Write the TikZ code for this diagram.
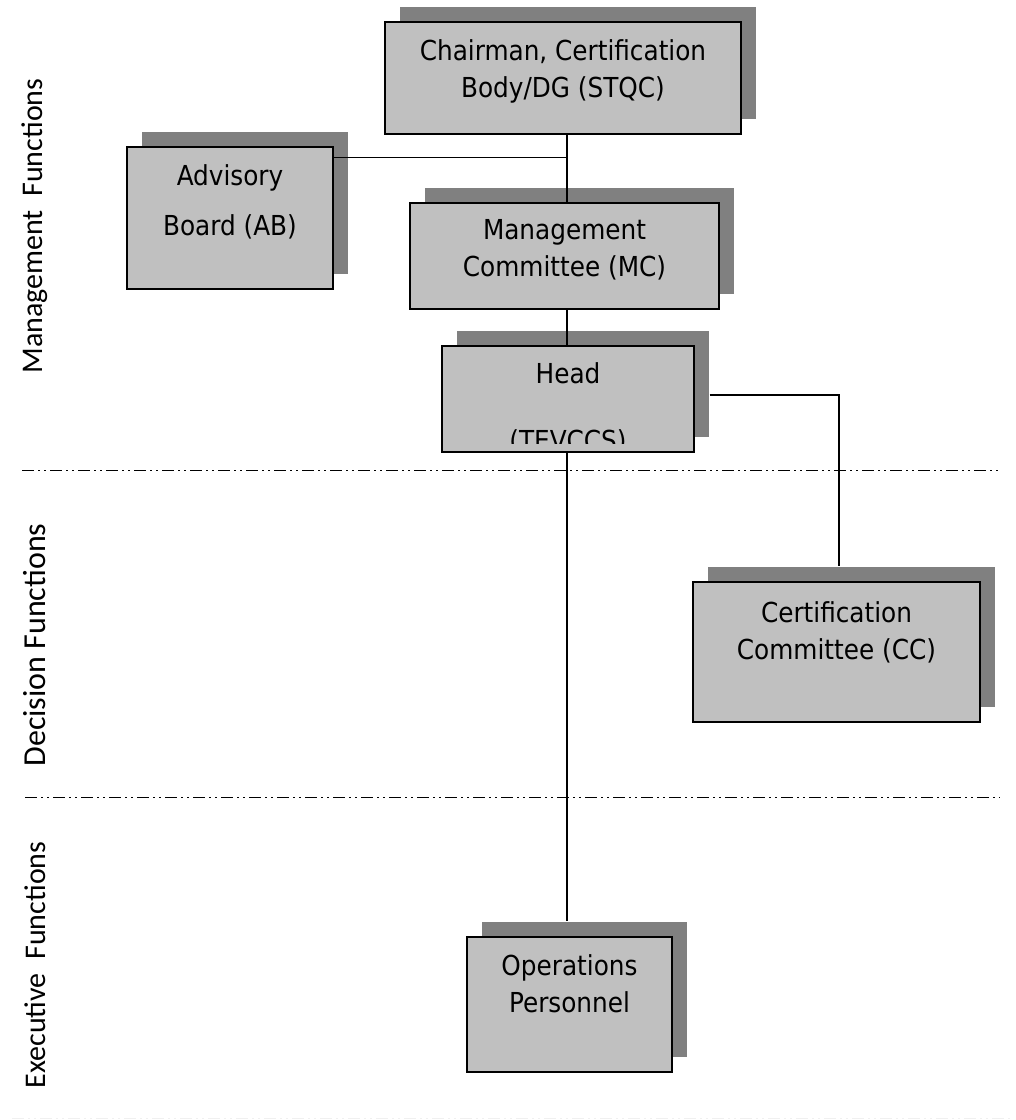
\documentclass[tikz,border=0pt]{standalone}
\usepackage{fontspec}
\setmainfont{DejaVu Sans Condensed}
\newfontfamily\sidefont{Carlito}
\usetikzlibrary{shadows}
\definecolor{boxgray}{HTML}{C0C0C0}
\definecolor{shadegray}{HTML}{808080}

\tikzset{
  orgbox/.style={draw=black, line width=1.4pt, fill=boxgray, inner sep=0pt,
    drop shadow={shadow xshift=15pt, shadow yshift=15pt, fill=shadegray, opacity=1}},
  boxtext/.style={align=center, inner sep=0pt, font=\fontsize{27.5}{37}\selectfont, anchor=north},
  sidetext/.style={rotate=90, inner sep=0pt, font=\sidefont\fontsize{30}{34}\selectfont},
  link/.style={draw=black, line width=1.2pt},
  divider/.style={draw=black, line width=1pt, dash pattern=on 12pt off 4pt on 2pt off 4pt on 2pt off 4pt}
}

\begin{document}
\begin{tikzpicture}[x=1pt, y=-1pt]
\useasboundingbox (0,0) rectangle (1016,1120);

\coordinate (spine) at (567,0);

\node[orgbox, minimum width=356, minimum height=112] (chair) at (563,78) {};
\node[boxtext] (chairtxt) at (563,39) {Chairman, Certification\\Body/DG (STQC)};

\node[orgbox, minimum width=206, minimum height=142] (ab) at (230,218) {};
\node[boxtext, font=\fontsize{27.5}{50}\selectfont] (abtxt) at (230,164) {Advisory\\Board (AB)};

\node[orgbox, minimum width=309, minimum height=106] (mc) at (564.5,256) {};
\node[boxtext] (mctxt) at (564.5,219.5) {Management\\Committee (MC)};

\node[orgbox, minimum width=252, minimum height=106] (head) at (568,399) {};
\begin{scope}
\clip (442,346) rectangle (694,443);
\node[boxtext, font=\fontsize{27.5}{67}\selectfont] (headtxt) at (568,362) {Head\\(TEVCCS)};
\end{scope}

\node[orgbox, minimum width=287, minimum height=140] (cc) at (836.5,652) {};
\node[boxtext] (cctxt) at (836.5,601) {Certification\\Committee (CC)};

\node[orgbox, minimum width=205, minimum height=135] (ops) at (569.5,1004.5) {};
\node[boxtext] (opstxt) at (569.5,954) {Operations\\Personnel};

% connectors
\coordinate (abtap) at ([yshift=-11pt]ab.north east);
\coordinate (headtap) at ([xshift=15pt, yshift=4pt]head.east);
\coordinate (cctop) at ([xshift=2.5pt, yshift=15pt]cc.north);
\coordinate (opstop) at ([yshift=15pt]ops.north);
\draw[link] (spine |- chair.south) -- (spine |- mc.north);
\draw[link] (abtap) -- (spine |- abtap);
\draw[link] (spine |- mc.south) -- (spine |- head.north);
\draw[link] (headtap) -| (cctop);
\draw[link] (spine |- head.south) -- (spine |- opstop);

% function bands
\draw[divider] (22,470) -- (1000,470);
\draw[divider] (25,797) -- (1000,797);
\draw[divider, draw=black!6] (12,1118) -- (1010,1118);

\node[sidetext] (mgmt) at (35,226) {Management\ \ Functions};
\node[sidetext, font=\sidefont\fontsize{32}{36}\selectfont] (dec) at (35,645) {Decision Functions};
\node[sidetext] (exe) at (35,965) {Executive\ \ Functions};
\end{tikzpicture}
\end{document}
